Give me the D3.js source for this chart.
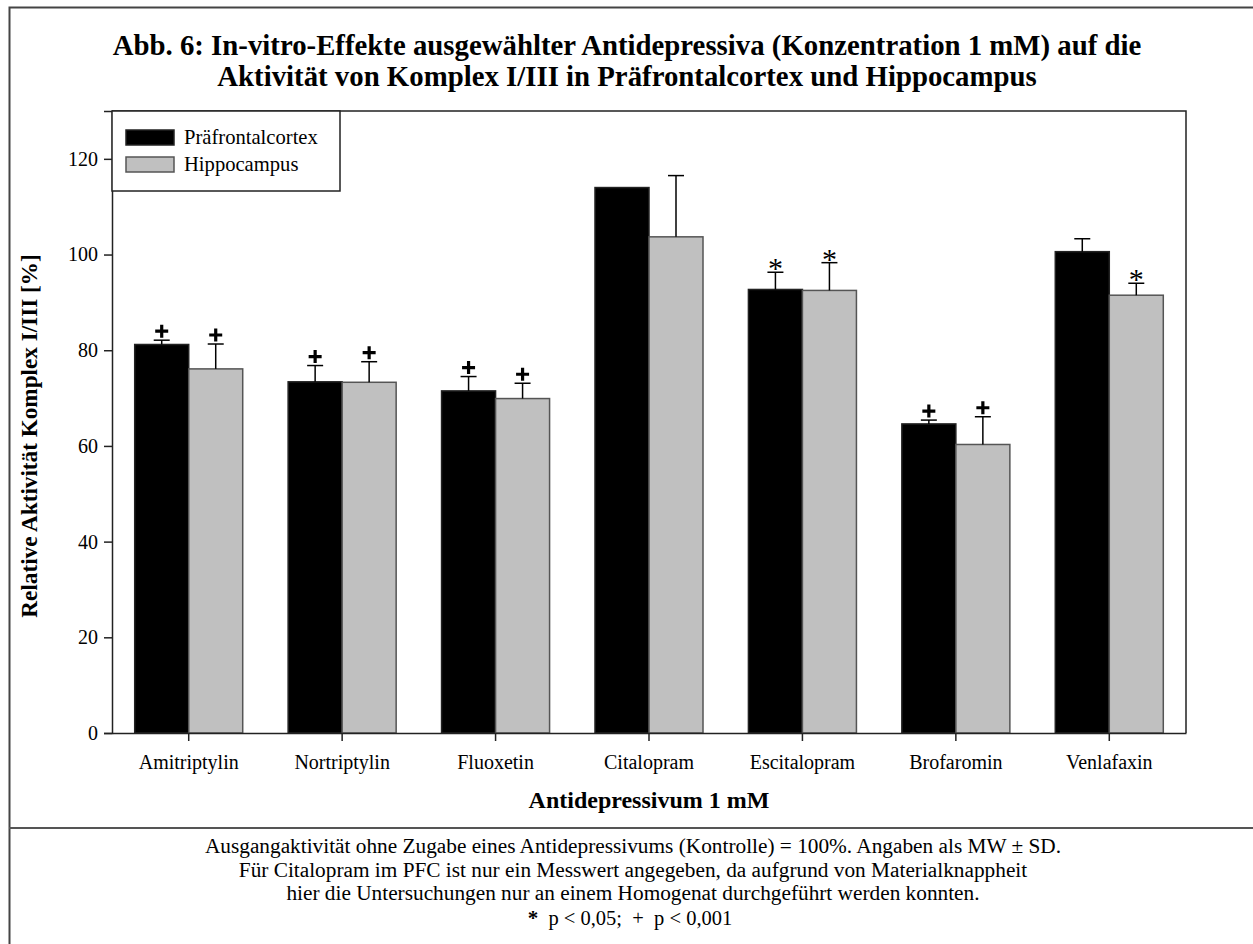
<!DOCTYPE html>
<html><head><meta charset="utf-8">
<script src="https://cdn.jsdelivr.net/npm/d3@7"></script>
<style>
html,body{margin:0;padding:0;background:#fff;}
svg text{font-family:"Liberation Serif","Times New Roman",serif;fill:#000;}
</style></head>
<body>
<svg id="c" width="1253" height="944"></svg>
<script>
const categories = ["Amitriptylin","Nortriptylin","Fluoxetin","Citalopram","Escitalopram","Brofaromin","Venlafaxin"];
const seriesNames = ["Präfrontalcortex","Hippocampus"];
const pfcValues = [81.2, 73.4, 71.5, 114.0, 92.7, 64.6, 100.6];
const pfcErrTop = [82.1, 76.8, 74.5, null, 96.3, 65.4, 103.3];
const hipValues = [76.1, 73.3, 69.9, 103.7, 92.5, 60.3, 91.5];
const hipErrTop = [81.3, 77.6, 73.1, 116.5, 98.3, 66.1, 94.0];
const pfcMarks = ["+","+","+","","*","+",""];
const hipMarks = ["+","+","+","","*","+","*"];
const yTicks = [0,20,40,60,80,100,120];
const titleLines = ["Abb. 6: In-vitro-Effekte ausgewählter Antidepressiva (Konzentration 1 mM) auf die",
                    "Aktivität von Komplex I/III in Präfrontalcortex und Hippocampus"];
const yLabel = "Relative Aktivität Komplex I/III [%]";
const xLabel = "Antidepressivum 1 mM";
const footLines = ["Ausgangaktivität ohne Zugabe eines Antidepressivums (Kontrolle) = 100%. Angaben als MW ± SD.",
                   "Für Citalopram im PFC ist nur ein Messwert angegeben, da aufgrund von Materialknappheit",
                   "hier die Untersuchungen nur an einem Homogenat durchgeführt werden konnten."];
const footSig = ["*", "  p < 0,05;  +  p < 0,001"];

const svg = d3.select("#c");
const colors = ["#000000", "#c0c0c0"];
const strokes = ["#222", "#555"];

// frames
svg.append("path").attr("d","M9.5,944 V7.5 H1253").attr("fill","none").attr("stroke","#444").attr("stroke-width",2);
svg.append("line").attr("x1",9).attr("x2",1253).attr("y1",828).attr("y2",828).attr("stroke","#555").attr("stroke-width",2);

const L = 112, R = 1186, T = 111, B = 733;
const x = d3.scaleBand().domain(categories).range([L, R]).paddingInner(0).paddingOuter(0);
const bw = x.bandwidth() * 0.352;
const y = d3.scaleLinear().domain([0,130]).range([B, T]);

// title
svg.append("g").selectAll("text").data(titleLines).join("text")
  .attr("x", 627).attr("y", (d,i)=>55 + i*31).attr("text-anchor","middle")
  .attr("font-weight","bold").attr("font-size", 28.8).text(d=>d);

const g = svg.append("g");

// plot frame (top & right)
g.append("path").attr("d", `M${L},${T} H${R} V${B}`).attr("fill","none").attr("stroke","#222").attr("stroke-width",1.5);

const data = categories.map((c,i)=>[
  {c, s:0, v:pfcValues[i], e:pfcErrTop[i], m:pfcMarks[i]},
  {c, s:1, v:hipValues[i], e:hipErrTop[i], m:hipMarks[i]}
]).flat();
const bx = d => x(d.c) + x.bandwidth()/2 + (d.s===0 ? -bw : 0);

g.selectAll("rect.bar").data(data).join("rect").attr("class","bar")
  .attr("x", bx).attr("width", bw)
  .attr("y", d=>y(d.v)).attr("height", d=>y(0)-y(d.v))
  .attr("fill", d=>colors[d.s]).attr("stroke", d=>strokes[d.s]).attr("stroke-width",1.5);

const eb = data.filter(d=>d.e!=null);
g.selectAll("line.ev").data(eb).join("line").attr("class","ev")
  .attr("x1", d=>bx(d)+bw/2).attr("x2", d=>bx(d)+bw/2)
  .attr("y1", d=>y(d.v)).attr("y2", d=>y(d.e)).attr("stroke","#000").attr("stroke-width",1.5);
g.selectAll("line.ec").data(eb).join("line").attr("class","ec")
  .attr("x1", d=>bx(d)+bw/2-8).attr("x2", d=>bx(d)+bw/2+8)
  .attr("y1", d=>y(d.e)).attr("y2", d=>y(d.e)).attr("stroke","#000").attr("stroke-width",1.5);

// significance marks
const plus = data.filter(d=>d.m==="+");
g.selectAll("path.plus").data(plus).join("path").attr("class","plus")
  .attr("d", d=>{ const cx = bx(d)+bw/2, cy = y(d.e)-9; return `M${cx-6.5},${cy}H${cx+6.5}M${cx},${cy-6.5}V${cy+6.5}`; })
  .attr("stroke","#000").attr("stroke-width",3.2).attr("fill","none");
const star = data.filter(d=>d.m==="*");
g.selectAll("text.star").data(star).join("text").attr("class","star")
  .attr("x", d=>bx(d)+bw/2).attr("y", d=>y(d.e)+6)
  .attr("text-anchor","middle").attr("font-size",30).text(d=>d.m);

// axes
const yAxis = d3.axisLeft(y).tickValues(yTicks).tickSize(8).tickPadding(6);
const ya = g.append("g").attr("transform",`translate(${L},0)`).call(yAxis);
ya.select(".domain").attr("stroke","#222").attr("stroke-width",1.5);
ya.selectAll(".tick line").attr("stroke","#222").attr("stroke-width",1.5);
ya.selectAll(".tick text").attr("font-size",20).attr("font-family","Liberation Serif");

const xAxis = d3.axisBottom(x).tickSize(8).tickSizeOuter(0).tickPadding(14);
const xa = g.append("g").attr("transform",`translate(0,${B})`).call(xAxis);
xa.select(".domain").attr("stroke","#222").attr("stroke-width",1.5);
xa.selectAll(".tick line").attr("stroke","#222").attr("stroke-width",1.5);
xa.selectAll(".tick text").attr("font-size",20).attr("font-family","Liberation Serif");

// axis labels
svg.append("text").attr("transform",`translate(37,436) rotate(-90)`).attr("text-anchor","middle")
  .attr("font-weight","bold").attr("font-size",23.2).text(yLabel);
svg.append("text").attr("x",(L+R)/2).attr("y",808).attr("text-anchor","middle")
  .attr("font-weight","bold").attr("font-size",24).text(xLabel);

// legend
const lg = svg.append("g");
lg.append("rect").attr("x",L).attr("y",T).attr("width",228).attr("height",80)
  .attr("fill","#fff").attr("stroke","#222").attr("stroke-width",1.5);
seriesNames.forEach((n,i)=>{
  lg.append("rect").attr("x",126).attr("y",130+i*27).attr("width",48).attr("height",15)
    .attr("fill",colors[i]).attr("stroke",strokes[i]).attr("stroke-width",1.5);
  lg.append("text").attr("x",184).attr("y",144+i*27).attr("font-size",20.6).text(n);
});

// footer
svg.append("g").selectAll("text").data(footLines).join("text")
  .attr("x",633).attr("y",(d,i)=>853+i*23.5).attr("text-anchor","middle").attr("font-size",21.3).text(d=>d);
const ft = svg.append("text").attr("x",630).attr("y",925).attr("text-anchor","middle").attr("font-size",20.5).attr("xml:space","preserve");
ft.append("tspan").attr("font-weight","bold").attr("font-size",21).text(footSig[0]);
ft.append("tspan").text(footSig[1]);
</script>
</body></html>
